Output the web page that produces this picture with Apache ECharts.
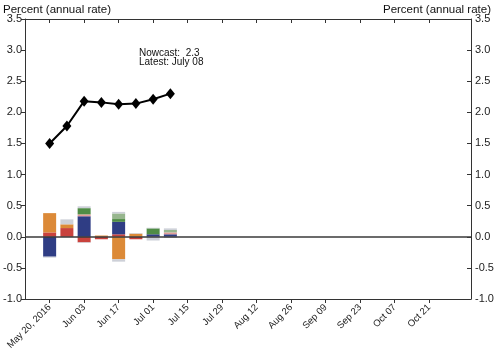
<!DOCTYPE html>
<html><head><meta charset="utf-8">
<script src="https://cdn.jsdelivr.net/npm/echarts@6/dist/echarts.min.js"></script>
<style>html,body{margin:0;padding:0;background:#fff}#c{width:500px;height:353px}</style>
</head><body><div id="c"></div>
<script>
// weekly observation dates (2016)
const dates = ['2016-05-20','2016-05-27','2016-06-03','2016-06-10','2016-06-17','2016-06-24','2016-07-01','2016-07-08'];
const nowcast = [1.50, 1.78, 2.18, 2.16, 2.13, 2.14, 2.21, 2.30];
const red        = [0.07, 0.14, -0.09, -0.04, 0.04, -0.04, 0, 0];
const navy       = [-0.32, 0, 0.33, 0, 0.20, 0, 0.04, 0.04];
const orange     = [0.31, 0.06, 0, 0.02, -0.36, 0.05, 0, 0];
const pink       = [0, 0, 0.03, 0, 0, 0, 0, 0.03];
const green      = [0, 0, 0.10, 0, 0.045, 0, 0.095, 0];
const lightgreen = [0, 0, 0, 0, 0.09, 0, 0, 0.04];
const grayPos    = [0, 0.08, 0.03, 0, 0.025, 0.01, 0.01, 0.025];
const grayNeg    = [-0.015, 0, -0.01, 0, -0.04, 0, -0.06, -0.02];
const tickDates  = ['2016-05-20','2016-06-03','2016-06-17','2016-07-01','2016-07-15','2016-07-29','2016-08-12','2016-08-26','2016-09-09','2016-09-23','2016-10-07','2016-10-21'];
const tickLabels = ['May 20, 2016','Jun 03','Jun 17','Jul 01','Jul 15','Jul 29','Aug 12','Aug 26','Sep 09','Sep 23','Oct 07','Oct 21'];
const axisStart = '2016-05-10';
const axisEnd   = '2016-11-07';

const font = 'Liberation Sans, Arial, sans-serif';
const DAY = 86400000;
const ts = d => Date.parse(d + 'T00:00:00Z');
const dayIdx = d => Math.round((ts(d) - ts(axisStart)) / DAY);
const nDays = dayIdx(axisEnd);
const dayCats = [];
for (let i = 0; i <= nDays; i++) dayCats.push(new Date(ts(axisStart) + i * DAY).toISOString().slice(0, 10));
const tickIdx = tickDates.map(dayIdx);

function pairs(arr){ return dates.map((d,i)=>[d, arr[i]]); }
function barSeries(name, arr, color){
  return {name, type:'bar', stack:'s', data:pairs(arr), barWidth:13,
    itemStyle:{color}, silent:true, xAxisIndex:0, yAxisIndex:0};
}
const chart = echarts.init(document.getElementById('c'), null, {renderer:'canvas'});
const axisLineStyle = {color:'#333', width:1};
chart.setOption({
  animation:false,
  grid:{left:25, right:29, top:19, bottom:54},
  xAxis:[{
    type:'category', data:dayCats, boundaryGap:false, position:'bottom',
    axisLine:{show:false}, axisTick:{show:false}, axisLabel:{show:false}, splitLine:{show:false}
  },{
    type:'value', min:0, max:nDays, position:'bottom',
    axisLine:{show:true, onZero:false, lineStyle:axisLineStyle},
    axisTick:{show:true, inside:false, length:4, customValues:tickIdx, lineStyle:axisLineStyle},
    axisLabel:{show:true, customValues:tickIdx, rotate:45, fontSize:9.5, color:'#222', fontFamily:font, margin:7,
      formatter:v=>{const i=tickIdx.indexOf(v); return i>=0?tickLabels[i]:'';}},
    splitLine:{show:false}
  },{
    type:'value', min:0, max:nDays, position:'top',
    axisLine:{show:true, onZero:false, lineStyle:axisLineStyle},
    axisTick:{show:true, inside:true, length:4, customValues:tickIdx, lineStyle:axisLineStyle},
    axisLabel:{show:false}, splitLine:{show:false}
  }],
  yAxis:[{
    type:'value', min:-1, max:3.5, interval:0.5, position:'left',
    axisLine:{show:true, onZero:false, lineStyle:axisLineStyle},
    axisTick:{show:true, inside:false, length:4, lineStyle:axisLineStyle},
    axisLabel:{fontSize:11, color:'#222', fontFamily:font, margin:3, formatter:v=>v.toFixed(1)},
    splitLine:{show:false}
  },{
    type:'value', min:-1, max:3.5, interval:0.5, position:'right',
    axisLine:{show:true, onZero:false, lineStyle:axisLineStyle},
    axisTick:{show:true, inside:true, length:4, lineStyle:axisLineStyle},
    axisLabel:{fontSize:11, color:'#222', fontFamily:font, margin:4, formatter:v=>v.toFixed(1)},
    splitLine:{show:false}
  }],
  series:[
    barSeries('Red', red, '#c9423d'),
    barSeries('Navy', navy, '#2f3d84'),
    barSeries('Orange', orange, '#dc8a38'),
    barSeries('Pink', pink, '#e39c98'),
    barSeries('Green', green, '#4f8c45'),
    barSeries('Light green', lightgreen, '#97b68e'),
    barSeries('Other', grayPos, '#cdd0d8'),
    barSeries('Other neg', grayNeg, '#cdd0d8'),
    {name:'Nowcast', type:'line', data:pairs(nowcast), xAxisIndex:0, yAxisIndex:0,
     showSymbol:true, showAllSymbol:true,
     symbol:'diamond', symbolSize:[9,11], lineStyle:{color:'#000', width:2}, itemStyle:{color:'#000'}, z:5,
     markLine:{silent:true, symbol:'none', label:{show:false}, lineStyle:{color:'#3a3a3a', width:1.5, type:'solid'},
       data:[{yAxis:0}]}}
  ],
  graphic:[
    {type:'text', left:3, top:4, style:{text:'Percent (annual rate)', font:'11.5px '+font, fill:'#111'}},
    {type:'text', right:9, top:4, style:{text:'Percent (annual rate)', font:'11.5px '+font, fill:'#111'}},
    {type:'text', left:139, top:48, style:{text:'Nowcast:  2.3\nLatest: July 08', font:'10px '+font, fill:'#111', lineHeight:9.5}}
  ]
});
</script></body></html>
